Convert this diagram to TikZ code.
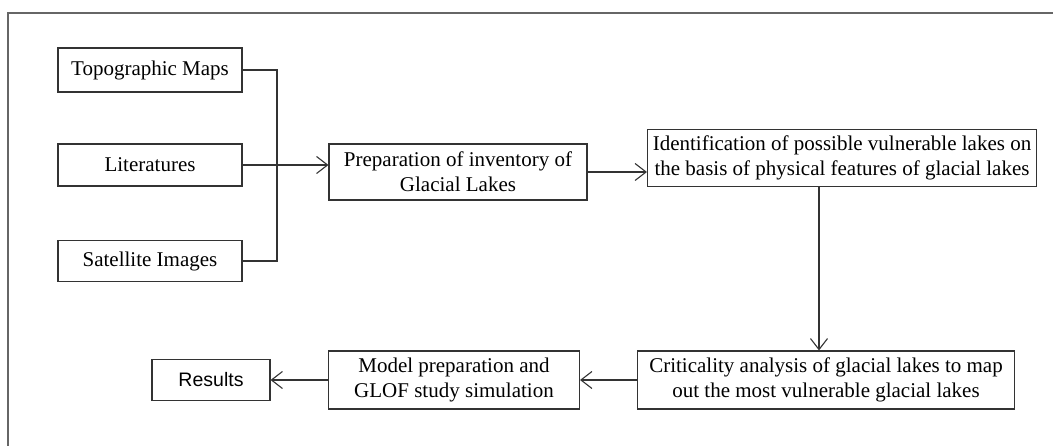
\documentclass[tikz,border=0pt]{standalone}
\usepackage{fontspec}
\setmainfont{Liberation Serif}
\newfontfamily\resfont{Liberation Sans}
\usetikzlibrary{arrows.meta}
\definecolor{lineclr}{HTML}{333333}
\definecolor{frameclr}{HTML}{666666}
\tikzset{
  boxnode/.style={draw=lineclr, line width=1.1pt, inner sep=0pt, align=center, text=black,
    font=\fontsize{21}{25}\selectfont},
  conn/.style={draw=lineclr, line width=1.1pt},
  arr/.style={conn, -{Straight Barb[length=11pt,width=17pt,line width=1.1pt]}}
}
\begin{document}
\begin{tikzpicture}[x=1pt,y=-1pt]
\useasboundingbox (0,0) rectangle (1053,446);
\draw[frameclr, line width=1.3pt] (8,446) -- (8,13) -- (1053,13);

\node[boxnode, minimum width=184pt, minimum height=44pt] (topo) at (150,70) {Topographic Maps};
\node[boxnode, minimum width=184pt, minimum height=42pt] (lit) at (150,165) {Literatures};
\node[boxnode, minimum width=184pt, minimum height=41pt] (sat) at (150,261) {Satellite Images};

\node[boxnode, minimum width=258pt, minimum height=56pt] (prep) at (458,172) {Preparation of inventory of\\Glacial Lakes};
\node[boxnode, minimum width=389pt, minimum height=57pt] (ident) at (842,158) {Identification of possible vulnerable lakes on\\the basis of physical features of glacial lakes};

\node[boxnode, minimum width=377pt, minimum height=58pt] (crit) at (826,380) {Criticality analysis of glacial lakes to map\\out the most vulnerable glacial lakes};
\node[boxnode, minimum width=251pt, minimum height=58pt] (model) at (454,380) {Model preparation and\\GLOF study simulation};
\node[boxnode, minimum width=118pt, minimum height=41pt, font=\resfont\fontsize{19.5}{23}\selectfont] (res) at (211,380) {Results};

\coordinate (jt) at (277,70);
\coordinate (jb) at (277,261);
\coordinate (vx) at (819,0);

\draw[conn] (topo.east) -- (jt) -- (jb) -- (sat.east);
\draw[arr] (lit.east) -- (prep.west |- lit.east);
\draw[arr] (prep.east) -- (ident.west |- prep.east);
\draw[arr] (ident.south -| vx) -- (crit.north -| vx);
\draw[arr] (crit.west) -- (model.east);
\draw[arr] (model.west) -- (res.east);
\end{tikzpicture}
\end{document}
